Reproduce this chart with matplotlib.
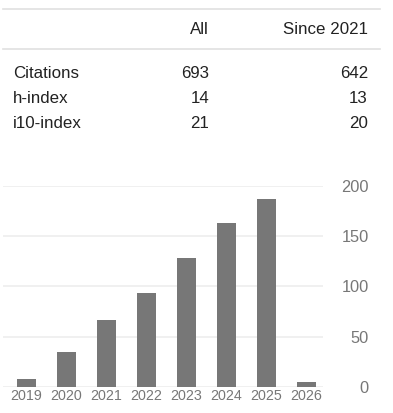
import matplotlib
matplotlib.use("Agg")
import matplotlib.pyplot as plt
from matplotlib.lines import Line2D

# citation table
row_names = ["Citations", "h-index", "i10-index"]
all_vals = [693, 14, 21]
since_vals = [642, 13, 20]
col_heads = ["All", "Since 2021"]

# yearly citations
years = ["2019", "2020", "2021", "2022", "2023", "2024", "2025", "2026"]
cites = [8, 35, 66, 93, 128, 163, 187, 5]
yticks = [0, 50, 100, 150, 200]

W, H = 393, 413
plt.rcParams['font.family'] = ['Liberation Sans', 'DejaVu Sans']
fig = plt.figure(figsize=(W / 100, H / 100), dpi=100)

def fx(px):
	return px / W

def fy(py):
	return 1 - py / H

txt = '#222222'
fs = 12.2

# table lines
for py in [8.5, 49]:
	fig.add_artist(Line2D([fx(3), fx(380)], [fy(py), fy(py)], color='#e0e0e0', lw=1.2))

fig.text(fx(209), fy(30), col_heads[0], ha='right', va='center', fontsize=fs, color=txt)
fig.text(fx(368), fy(30), col_heads[1], ha='right', va='center', fontsize=fs, color=txt)
for i, name in enumerate(row_names):
	y = fy(73 + 25.5 * i)
	fig.text(fx(13), y, name, ha='left', va='center', fontsize=fs, color=txt)
	fig.text(fx(209), y, str(all_vals[i]), ha='right', va='center', fontsize=fs, color=txt)
	fig.text(fx(368), y, str(since_vals[i]), ha='right', va='center', fontsize=fs, color=txt)

# bar chart
left, right, top, bottom = 3, 323, 186, 386.7
ax = fig.add_axes([fx(left), fy(bottom), fx(right - left), (bottom - top) / H])
x = list(range(len(years)))
ax.bar(x, cites, width=0.48, color='#777777', zorder=2)
ax.set_xlim(-0.5875, 7.4125)
ax.set_ylim(0, 200)
for v in yticks:
	ax.axhline(v, color='#eeeeee', lw=1.2, zorder=1)
for s in ax.spines.values():
	s.set_visible(False)
ax.set_xticks(x)
ax.set_xticklabels(years, fontsize=10.3, color='#777777')
ax.yaxis.tick_right()
ax.set_yticks(yticks)
ax.set_yticklabels([str(v) for v in yticks], fontsize=11.8, color='#777777', ha='right')
ax.tick_params(axis='y', length=0, pad=33)
ax.tick_params(axis='x', length=0, pad=2)
ax.set_facecolor('none')

fig.savefig('out.png', dpi=100)
